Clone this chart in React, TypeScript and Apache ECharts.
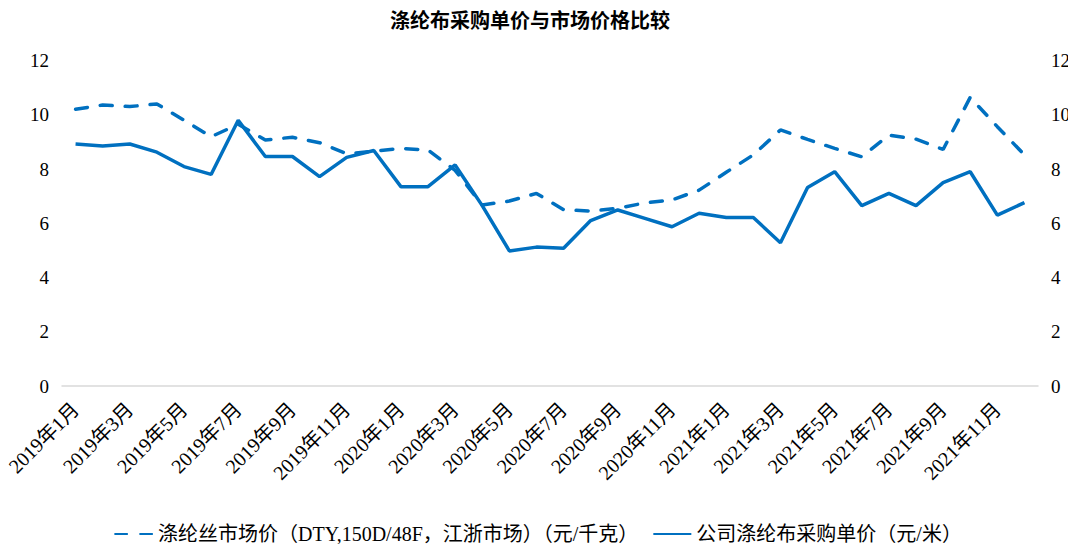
import React, { useEffect, useRef } from "react";
import * as echarts from "echarts";

const months: string[] = [];
for (const y of [2019, 2020, 2021]) {
  for (let m = 1; m <= 12; m++) months.push(`${y}年${m}月`);
}

const marketPrice = [
  10.2, 10.36, 10.3, 10.4, 9.8, 9.19, 9.65, 9.07, 9.17, 8.97, 8.56, 8.66,
  8.76, 8.7, 7.95, 6.67, 6.82, 7.1, 6.5, 6.45, 6.55, 6.75, 6.86, 7.22,
  7.88, 8.52, 9.44, 9.09, 8.76, 8.45, 9.25, 9.1, 8.72, 10.64, 9.56, 8.52,
];

const purchasePrice = [
  8.92, 8.85, 8.92, 8.62, 8.09, 7.8, 9.8, 8.46, 8.46, 7.72, 8.43, 8.68,
  7.35, 7.35, 8.15, 6.65, 4.98, 5.12, 5.08, 6.1, 6.49, 6.18, 5.87, 6.37,
  6.21, 6.21, 5.28, 7.32, 7.9, 6.65, 7.1, 6.65, 7.5, 7.9, 6.3, 6.76,
];

const yTicks = [0, 2, 4, 6, 8, 10, 12];

const seriesNames = [
  "涤纶丝市场价（DTY,150D/48F，江浙市场）（元/千克）",
  "公司涤纶布采购单价（元/米）",
];

const FONT = "'Liberation Serif', 'Noto Sans CJK SC', serif";
const BLUE = "#0070C0";

export default function App() {
  const ref = useRef<HTMLDivElement>(null);
  useEffect(() => {
    if (!ref.current) return;
    const chart = echarts.init(ref.current, undefined, { renderer: "svg" });
    const yAxisBase = {
      type: "value" as const,
      min: yTicks[0],
      max: yTicks[yTicks.length - 1],
      interval: 2,
      splitLine: { show: false },
      axisLine: { show: false },
      axisTick: { show: false },
      axisLabel: { color: "#000", fontSize: 19, fontFamily: FONT, margin: 13 },
    };
    chart.setOption({
      animation: false,
      backgroundColor: "#fff",
      textStyle: { fontFamily: FONT },
      title: {
        text: "涤纶布采购单价与市场价格比较",
        left: 385,
        top: 6,
        textStyle: { fontSize: 20, fontWeight: "bold", color: "#000", fontFamily: FONT },
      },
      legend: {
        bottom: 3,
        left: "center",
        itemWidth: 38,
        itemHeight: 10,
        itemGap: 14,
        itemStyle: { opacity: 0 },
        textStyle: { fontSize: 20, color: "#000", fontFamily: FONT },
        data: seriesNames,
      },
      grid: { left: 62, right: 38, top: 60.5, bottom: 166, containLabel: false },
      xAxis: {
        type: "category",
        data: months,
        boundaryGap: true,
        axisLine: { lineStyle: { color: "#D9D9D9", width: 1.5 } },
        axisTick: { interval: 1, length: 8, lineStyle: { color: "#D9D9D9", width: 1.5 } },
        axisLabel: {
          interval: 1,
          rotate: 45,
          color: "#000",
          fontSize: 20,
          fontFamily: FONT,
          margin: 20,
        },
      },
      yAxis: [
        { ...yAxisBase, position: "left" },
        { ...yAxisBase, position: "right" },
      ],
      series: [
        {
          name: seriesNames[0],
          type: "line",
          data: marketPrice,
          symbol: "none",
          lineStyle: { color: BLUE, width: 3.5, type: [12, 13], cap: "round" },
          itemStyle: { color: BLUE },
        },
        {
          name: seriesNames[1],
          type: "line",
          data: purchasePrice,
          symbol: "none",
          lineStyle: { color: BLUE, width: 3.5 },
          itemStyle: { color: BLUE },
        },
      ],
    });
    return () => chart.dispose();
  }, []);
  return <div ref={ref} style={{ width: 1076, height: 552, margin: -8 }} />;
}
